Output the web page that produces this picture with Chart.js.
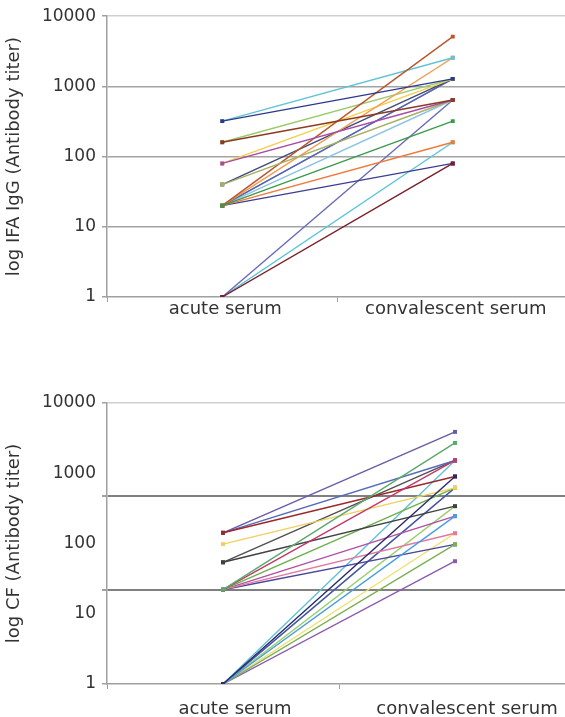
<!DOCTYPE html>
<html>
<head>
<meta charset="utf-8">
<script src="https://cdn.jsdelivr.net/npm/chart.js@4.4.1/dist/chart.umd.min.js"></script>
<style>
  html, body { margin: 0; padding: 0; background: #fff; overflow: hidden; }
  #wrap { position: relative; width: 565px; height: 717px; overflow: hidden; }
  canvas { position: absolute; left: 0; }
  #ifaChart { top: 0; }
  #cfChart { top: 380px; }
</style>
</head>
<body>
<div id="wrap">
  <canvas id="ifaChart" width="572" height="345"></canvas>
  <canvas id="cfChart" width="575" height="337"></canvas>
</div>
<script>
// Paired titers per patient: acute vs convalescent serum
const categories = ['acute serum', 'convalescent serum'];

// IFA IgG (top chart)
const ifaAcute = [320, 160, 20, 1, 80, 40, 20, 320, 20, 20, 160, 80, 40, 20, 20, 20, 1, 1, 20];
const ifaConv = [1280, 640, 320, 80, 640, 640, 5120, 2560, 160, 2560, 1280, 1280, 1280, 1280, 640, 80, 640, 160, 1280];
const ifaTickValues = [1, 10, 100, 1000, 10000];
const ifaTickLabels = [1, 10, 100, 1000, 10000];

// CF (bottom chart)
const cfAcute = [1, 22, 22, 54, 142, 98, 22, 1, 22, 1, 1, 142, 142, 54, 22, 22, 1, 1, 1, 1, 1];
const cfConv = [900, 2700, 1520, 340, 900, 620, 620, 245, 140, 97, 56, 3880, 1520, 1520, 245, 97, 1520, 620, 620, 340, 140];
const cfTickValues = [1, 22, 480, 10000];
const cfTickLabels = [1, 10, 100, 1000, 10000];

const ifaColors = ['#2d3a8c', '#8c3b22', '#3a9a4a', '#7a1f2a', '#a54aa5', '#a8b060', '#b9562e',
    '#62c3d6', '#f07a3a', '#f49a4a', '#9acb6a', '#f3cf4a', '#3f4a78', '#5b5fb0', '#8cc4e6',
    '#3c3f90', '#6a6ab8', '#58c4d8', '#7ab8e0'];
const cfColors = ['#2a2a6a', '#5aaa6a', '#c03a6a', '#404040', '#9a2a2a', '#f0d060', '#6ab04a',
    '#4a9ee0', '#e07aa0', '#7ab050', '#8a5ab0', '#6a5aa8', '#5a6ab8', '#505050', '#b050a8',
    '#4a4a9a', '#60c0d8', '#5050a8', '#4aa8a0', '#9ad070', '#f0e070'];

const FONT = 'DejaVu Sans';
const TEXT = '#333';

function buildDatasets(acute, conv, colors) {
    return acute.map((a, i) => ({
        data: [a, conv[i]],
        borderColor: colors[i],
        backgroundColor: colors[i],
        borderWidth: 1.4,
        pointStyle: 'rect',
        pointRadius: 2.8,
        pointBorderWidth: 0,
        tension: 0
    }));
}

function createTiterChart(canvasId, cfg) {
    const canvas = document.getElementById(canvasId);
    const ctx = canvas.getContext('2d');
    return new Chart(ctx, {
        type: 'line',
        data: {
            labels: categories,
            datasets: buildDatasets(cfg.acute, cfg.conv, cfg.colors)
        },
        options: {
            responsive: false,
            animation: false,
            layout: { padding: { top: cfg.padTop, right: 3, left: 0, bottom: 0 } },
            scales: {
                x: {
                    type: 'category',
                    offset: true,
                    grid: {
                        offset: true,
                        drawOnChartArea: false,
                        tickLength: 5,
                        tickColor: '#a0a0a0'
                    },
                    border: { color: '#a0a0a0', width: 1.5 },
                    ticks: {
                        font: { family: FONT, size: 18 },
                        color: TEXT,
                        padding: cfg.labelPad,
                        labelOffset: cfg.labelShift,
                        maxRotation: 0
                    },
                    afterFit: scale => { scale.height = cfg.xHeight; }
                },
                y: {
                    type: 'logarithmic',
                    min: 1,
                    max: 10000,
                    afterBuildTicks: axis => {
                        axis.ticks = cfg.tickValues.concat(cfg.tickLabels.filter(v => !cfg.tickValues.includes(v)))
                            .sort((a, b) => a - b)
                            .map(v => ({ value: v }));
                    },
                    grid: {
                        color: c => cfg.gridColor(c.tick.value),
                        lineWidth: c => cfg.gridWidth(c.tick.value),
                        tickColor: c => cfg.tickValues.includes(c.tick.value) ? '#a0a0a0' : 'rgba(0,0,0,0)',
                        tickLength: 5
                    },
                    border: { color: '#a0a0a0', width: 1.5 },
                    ticks: {
                        autoSkip: false,
                        font: { family: FONT, size: 17 },
                        color: TEXT,
                        padding: 6,
                        callback: v => cfg.tickLabels.includes(v) ? String(v) : ''
                    },
                    title: {
                        display: true,
                        text: cfg.yTitle,
                        font: { family: FONT, size: 18 },
                        color: TEXT,
                        padding: { top: 4, bottom: 0 }
                    },
                    afterFit: scale => { scale.width = 107; }
                }
            },
            plugins: {
                legend: { display: false },
                tooltip: { enabled: false }
            }
        }
    });
}

createTiterChart('ifaChart', {
    acute: ifaAcute,
    conv: ifaConv,
    colors: ifaColors,
    tickValues: ifaTickValues,
    tickLabels: ifaTickLabels,
    yTitle: 'log IFA IgG (Antibody titer)',
    padTop: 15.5,
    xHeight: 48,
    labelPad: -3,
    labelShift: 3,
    gridColor: v => v === 10000 ? '#cfcfcf' : (v === 1 ? 'rgba(0,0,0,0)' : '#a3a3a3'),
    gridWidth: v => 1.5
});

createTiterChart('cfChart', {
    acute: cfAcute,
    conv: cfConv,
    colors: cfColors,
    tickValues: cfTickValues,
    tickLabels: cfTickLabels,
    yTitle: 'log CF (Antibody titer)',
    padTop: 23,
    xHeight: 33,
    labelPad: 10,
    labelShift: 12,
    gridColor: v => v === 10000 ? '#cfcfcf' : ((v === 22 || v === 480) ? '#808080' : 'rgba(0,0,0,0)'),
    gridWidth: v => (v === 22 || v === 480) ? 2 : 1.5
});
</script>
</body>
</html>
